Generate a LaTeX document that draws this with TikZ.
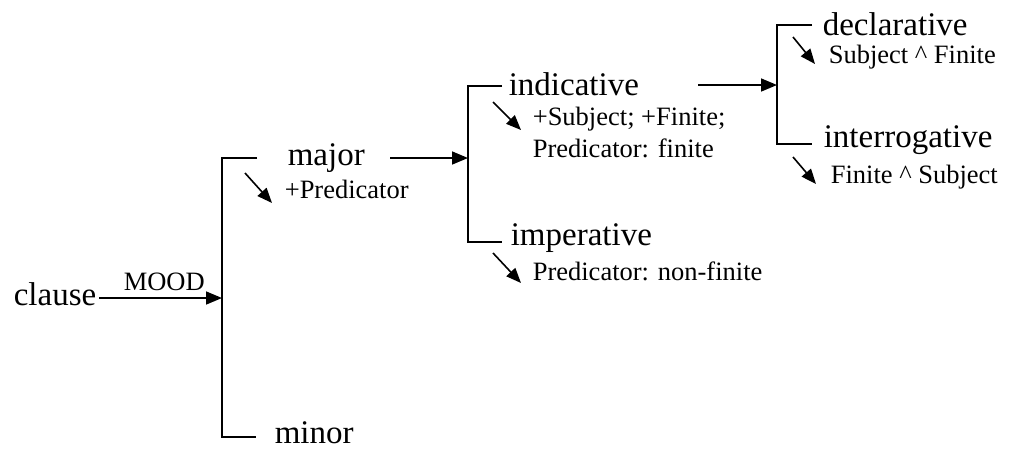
\documentclass[tikz,border=0pt]{standalone}
\usepackage{fontspec}
\setmainfont{Liberation Serif}
\usetikzlibrary{arrows.meta}
\begin{document}
\begin{tikzpicture}[x=1pt,y=-1pt,line width=1.6pt,
  term/.style={inner sep=0pt,anchor=base west,font=\fontsize{33}{36}\selectfont},
  feat/.style={inner sep=0pt,anchor=base west,font=\fontsize{26.5}{30}\selectfont},
  arr/.style={-{Triangle[length=16pt,width=13pt]}},
  small arr/.style={-{Triangle[length=15pt,width=12pt]}},
  bracket/.style={line width=1.6pt}]
\useasboundingbox (0,0) rectangle (1011,448);

% entry condition and system name
\node[term] (clause) at (13,305) {clause};
\node[feat] (mood) at (123,290) {MOOD};

% first system: major / minor
\coordinate (b1top) at (222,158);
\coordinate (b1bot) at (222,437);
\coordinate (b1in) at (222,298);
\draw[bracket] (257,158) -- (b1top) -- (b1bot) -- (256,437);
\draw[arr] (99,298) -- (b1in);

\node[term] (major) at (287,165) {major};
\node[feat] (majorreal) at (284,198) {+Predicator};
\coordinate (majA) at (245,173);
\coordinate (majB) at (272,203);
\draw[small arr] (majA) -- (majB);
\node[term] (minor) at (274,443) {minor};

% second system: indicative / imperative
\coordinate (b2top) at (468,86);
\coordinate (b2bot) at (468,242);
\coordinate (b2in) at (468,158);
\draw[bracket] (502,86) -- (b2top) -- (b2bot) -- (502,242);
\draw[arr] (390,158) -- (b2in);

\node[term] (indic) at (508,95) {indicative};
\node[feat] (indreal1) at (532,125) {+Subject; +Finite;};
\node[feat] (indreal2) at (532,157) {Predicator: finite};
\coordinate (indA) at (493,102);
\coordinate (indB) at (521,130);
\draw[small arr] (indA) -- (indB);

\node[term] (imper) at (510,245) {imperative};
\node[feat] (impreal) at (532,280) {Predicator: non-finite};
\coordinate (impA) at (493,253);
\coordinate (impB) at (521,283);
\draw[small arr] (impA) -- (impB);

% third system: declarative / interrogative
\coordinate (b3top) at (777,25);
\coordinate (b3bot) at (777,144);
\coordinate (b3in) at (777,85);
\draw[bracket] (812,25) -- (b3top) -- (b3bot) -- (812,144);
\draw[arr] (698,85) -- (b3in);

\node[term] (decl) at (822,35) {declarative};
\node[feat] (declreal) at (828,63) {Subject \textasciicircum{} Finite};
\coordinate (decA) at (793,37);
\coordinate (decB) at (815,64);
\draw[small arr] (decA) -- (decB);

\node[term] (inter) at (823,147) {interrogative};
\node[feat] (interreal) at (830,183) {Finite \textasciicircum{} Subject};
\coordinate (intA) at (793,157);
\coordinate (intB) at (816,184);
\draw[small arr] (intA) -- (intB);
\end{tikzpicture}
\end{document}
